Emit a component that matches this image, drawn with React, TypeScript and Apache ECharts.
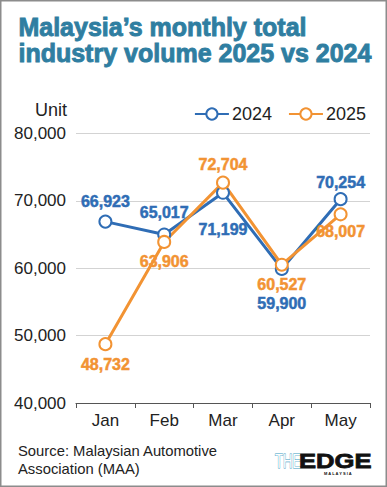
import React, { useEffect, useRef } from "react";
import * as echarts from "echarts";

const months = ["Jan", "Feb", "Mar", "Apr", "May"];
const tiv2024 = [66923, 65017, 71199, 59900, 70254];
const tiv2025 = [48732, 63906, 72704, 60527, 68007];
const yTicks = { min: 40000, max: 80000, interval: 10000 };
const titleLines = ["Malaysia\u2019s monthly total", "industry volume 2025 vs 2024"];
const sourceLines = ["Source: Malaysian Automotive", "Association (MAA)"];

const BLUE = "#2f6db5";
const ORANGE = "#f29333";
const FONT = "'Liberation Sans', Arial, Helvetica, sans-serif";

// label placement per point (position, distance)
const place2024: [string, number][] = [["top", 5], ["top", 7], ["bottom", 22], ["bottom", 20], ["top", 2]];
const place2025: [string, number][] = [["bottom", 5], ["bottom", 5], ["top", 3], ["bottom", 5], ["bottom", 2]];

function fmt(v: number) {
  return v.toLocaleString("en-US");
}

export default function App() {
  const ref = useRef<HTMLDivElement>(null);
  useEffect(() => {
    if (!ref.current) return;
    const chart = echarts.init(ref.current, null, { renderer: "svg" });
    const labelStyle = (color: string) => ({
      show: true,
      color,
      fontFamily: FONT,
      fontWeight: 700,
      fontSize: 16,
      textBorderColor: color,
      textBorderWidth: 0.5,
      formatter: (p: any) => fmt(p.value),
    });
    const mk = (vals: number[], pl: [string, number][], color: string) =>
      vals.map((v, i) => ({
        value: v,
        label: { ...labelStyle(color), position: pl[i][0], distance: pl[i][1] },
      }));
    const series = (name: string, color: string, vals: number[], pl: [string, number][]) => ({
      name,
      type: "line",
      data: mk(vals, pl, color),
      symbol: "emptyCircle",
      symbolSize: 12,
      itemStyle: { color, borderColor: color, borderWidth: 2.5 },
      lineStyle: { color, width: 3 },
      label: labelStyle(color),
      emphasis: { disabled: true },
    });
    chart.setOption({
      animation: false,
      backgroundColor: "#ffffff",
      textStyle: { fontFamily: FONT },
      grid: { left: 76, right: 17, top: 133.5, bottom: 84, containLabel: false },
      legend: {
        right: 16,
        top: 100,
        itemWidth: 34,
        itemHeight: 14,
        itemGap: 16,
        textStyle: { fontSize: 18, color: "#222", fontFamily: FONT, padding: [0, 0, 0, -2] },
        data: ["2024", "2025"],
      },
      xAxis: {
        type: "category",
        data: months,
        boundaryGap: true,
        axisLine: { lineStyle: { color: "#555", width: 1.2 } },
        axisTick: { show: true, length: 5, lineStyle: { color: "#555" } },
        axisLabel: { fontSize: 17, color: "#222", margin: 9, fontFamily: FONT },
      },
      yAxis: {
        type: "value",
        min: yTicks.min,
        max: yTicks.max,
        interval: yTicks.interval,
        axisLine: { show: false },
        axisTick: { show: false },
        axisLabel: {
          fontSize: 17,
          color: "#222",
          margin: 10,
          fontFamily: FONT,
          formatter: (v: number) => fmt(v),
        },
        splitLine: { lineStyle: { color: "#d3d3d3", width: 1 } },
      },
      series: [
        series("2024", BLUE, tiv2024, place2024),
        series("2025", ORANGE, tiv2025, place2025),
      ],
      graphic: [
        {
          type: "rect",
          shape: { x: 0.75, y: 0.75, width: 385.5, height: 485.5 },
          style: { fill: "none", stroke: "#8c8c8c", lineWidth: 1.5 },
          silent: true,
          z: 100,
        },
        {
          type: "text",
          left: 18,
          top: 14,
          style: {
            text: titleLines[0],
            fill: "#2f7ea1",
            stroke: "#2f7ea1",
            lineWidth: 0.9,
            font: `bold 25px ${FONT}`,
          },
        },
        {
          type: "text",
          left: 18,
          top: 40,
          style: {
            text: titleLines[1],
            fill: "#2f7ea1",
            stroke: "#2f7ea1",
            lineWidth: 0.9,
            font: `bold 25px ${FONT}`,
          },
        },
        {
          type: "text",
          right: 320,
          top: 101,
          style: { text: "Unit", fill: "#222", font: `18px ${FONT}`, textAlign: "right" },
        },
        {
          type: "text",
          left: 18,
          top: 443,
          style: { text: sourceLines[0], fill: "#222", font: `14.8px ${FONT}` },
        },
        {
          type: "text",
          left: 18,
          top: 461,
          style: { text: sourceLines[1], fill: "#222", font: `14.8px ${FONT}` },
        },
        {
          type: "text",
          x: 275,
          y: 450,
          scaleX: 0.62,
          style: {
            text: "THE",
            fill: "#ffffff",
            stroke: "#3d9cc4",
            lineWidth: 1.1,
            font: `21px ${FONT}`,
          },
        },
        {
          type: "text",
          x: 299,
          y: 450,
          scaleX: 1.22,
          style: { text: "EDGE", fill: "#111", stroke: "#111", lineWidth: 0.8, font: `bold 21px ${FONT}` },
        },
        {
          type: "text",
          x: 324,
          y: 471,
          style: { text: "M A L A Y S I A", fill: "#111", font: `bold 4px ${FONT}` },
        },
      ],
    });
    return () => chart.dispose();
  }, []);
  return (
    <div
      ref={ref}
      style={{ position: "fixed", left: 0, top: 0, width: 387, height: 487, background: "#fff" }}
    />
  );
}
